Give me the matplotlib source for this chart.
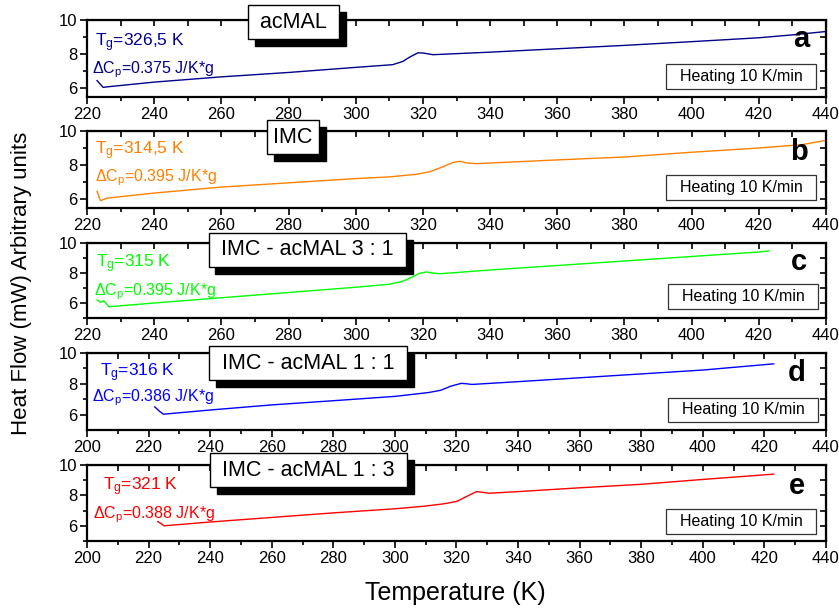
import matplotlib
matplotlib.use('Agg')
import matplotlib.pyplot as plt
from matplotlib.ticker import MultipleLocator

plt.rcParams['font.family'] = ['Liberation Sans', 'DejaVu Sans']
plt.rcParams['mathtext.default'] = 'regular'

# ---- data (temperature in K, heat flow in arb. units)
x_a = [223, 224.8, 226, 240, 260, 280, 300, 311, 314, 316, 318.5, 320, 323, 340, 360, 380, 400, 420, 430, 440]
y_a = [6.42, 6.02, 6.05, 6.33, 6.64, 6.9, 7.2, 7.36, 7.55, 7.8, 8.06, 8.05, 7.95, 8.1, 8.3, 8.5, 8.72, 8.95, 9.12, 9.32]

x_b = [223, 224, 226, 240, 260, 280, 300, 310, 318, 322, 326, 329, 331, 333, 336, 360, 380, 400, 420, 433, 440]
y_b = [6.45, 5.9, 6.05, 6.35, 6.7, 6.95, 7.2, 7.3, 7.45, 7.6, 7.9, 8.15, 8.22, 8.12, 8.08, 8.3, 8.47, 8.75, 9.0, 9.2, 9.45]

x_c = [223, 224, 225, 226.5, 240, 260, 280, 300, 310, 314, 317, 319, 321, 323, 325, 340, 360, 380, 400, 420, 423]
y_c = [6.2, 6.05, 6.15, 5.75, 6.0, 6.35, 6.7, 7.05, 7.25, 7.45, 7.75, 7.98, 8.07, 8.0, 7.95, 8.2, 8.5, 8.8, 9.1, 9.4, 9.47]

x_d = [222, 223.5, 224.8, 240, 260, 280, 300, 311, 315, 318, 321.5, 323, 325, 340, 360, 380, 400, 423]
y_d = [6.52, 6.25, 6.05, 6.32, 6.65, 6.92, 7.2, 7.45, 7.6, 7.85, 8.04, 8.02, 7.97, 8.15, 8.4, 8.65, 8.9, 9.3]

x_e = [223, 224, 225, 240, 260, 280, 300, 310, 316, 320, 323, 326.5, 328, 330.5, 340, 360, 380, 400, 423]
y_e = [6.28, 6.15, 6.0, 6.25, 6.55, 6.85, 7.12, 7.3, 7.45, 7.6, 7.9, 8.25, 8.22, 8.14, 8.25, 8.5, 8.73, 9.05, 9.4]

xs = [x_a, x_b, x_c, x_d, x_e]
ys = [y_a, y_b, y_c, y_d, y_e]
colors = ['#00008B', '#FF8000', '#00FF00', '#0000FF', '#FF0000']
letters = ['a', 'b', 'c', 'd', 'e']
samples = [' acMAL ', 'IMC', ' IMC - acMAL 3 : 1 ', ' IMC - acMAL 1 : 1 ', ' IMC - acMAL 1 : 3 ']
tg_labels = ['T$_g$=326,5 K', 'T$_g$=314,5 K', 'T$_g$=315 K', 'T$_g$=316 K', 'T$_g$=321 K']
cp_labels = ['ΔC$_p$=0.375 J/K*g', 'ΔC$_p$=0.395 J/K*g', 'ΔC$_p$=0.395 J/K*g',
             'ΔC$_p$=0.386 J/K*g', 'ΔC$_p$=0.388 J/K*g']
xlims = [(220, 440), (220, 440), (220, 440), (200, 440), (200, 440)]
ylims = [(5.45, 10), (5.47, 10), (5, 10), (5.03, 10), (5, 10)]

# layout in pixels (top, bottom) of every panel
W, H = 839, 608
panel_px = [(20, 97), (131, 208), (243, 318), (353, 430), (465, 541)]
tg_pos = [(0.011, 0.71), (0.011, 0.75), (0.012, 0.73), (0.017, 0.75), (0.022, 0.71)]
cp_pos = [(0.007, 0.35), (0.011, 0.39), (0.010, 0.35), (0.007, 0.42), (0.008, 0.34)]
box_pos = [(0.279, 0.97), (0.279, 0.92), (0.298, 0.91), (0.299, 0.87), (0.300, 0.93)]
heat_pos = [(0.885, 0.27), (0.885, 0.27), (0.888, 0.29), (0.888, 0.26), (0.885, 0.26)]
letter_pos = [(0.967, 0.75), (0.964, 0.73), (0.964, 0.75), (0.96, 0.74), (0.96, 0.72)]

fig = plt.figure(figsize=(W / 100, H / 100), dpi=100)

for i in range(5):
    top, bot = panel_px[i]
    ax = fig.add_axes([87 / W, 1 - bot / H, 739 / W, (bot - top) / H])
    ax.plot(xs[i], ys[i], color=colors[i], lw=1.0)
    ax.set_xlim(*xlims[i])
    ax.set_ylim(*ylims[i])
    ax.xaxis.set_major_locator(MultipleLocator(20))
    ax.xaxis.set_minor_locator(MultipleLocator(10))
    ax.yaxis.set_major_locator(MultipleLocator(2))
    ax.yaxis.set_minor_locator(MultipleLocator(1))
    for s in ax.spines.values():
        s.set_linewidth(1.6)
    ax.tick_params(which='major', direction='out', length=5, width=1.2, labelsize=12, pad=2)
    ax.tick_params(which='minor', direction='out', length=3, width=1.2)

    # inward ticks on top and right
    sx = ax.secondary_xaxis('top')
    sx.xaxis.set_major_locator(MultipleLocator(20))
    sx.xaxis.set_minor_locator(MultipleLocator(10))
    sx.tick_params(which='both', direction='in', length=4, width=1.2, labeltop=False)
    sy = ax.secondary_yaxis('right')
    sy.yaxis.set_major_locator(MultipleLocator(2))
    sy.yaxis.set_minor_locator(MultipleLocator(1))
    sy.tick_params(which='both', direction='in', length=4, width=1.2, labelright=False)

    ax.text(*tg_pos[i], tg_labels[i], transform=ax.transAxes, color=colors[i],
            fontsize=12.5, ha='left', va='center')
    ax.text(*cp_pos[i], cp_labels[i], transform=ax.transAxes, color=colors[i],
            fontsize=11.5, ha='left', va='center')

    # sample name box with black drop shadow
    box = dict(boxstyle='square,pad=0.3', lw=1.0)
    ax.annotate(samples[i], xy=box_pos[i], xycoords='axes fraction', xytext=(5, -5),
                textcoords='offset points', ha='center', va='center', fontsize=15.5,
                color='black', bbox=dict(box, fc='black', ec='black'), zorder=6)
    ax.text(*box_pos[i], samples[i], transform=ax.transAxes, ha='center', va='center',
            fontsize=15.5, bbox=dict(box, fc='white', ec='black'), zorder=7)

    ax.text(*heat_pos[i], '  Heating 10 K/min  ', transform=ax.transAxes, ha='center',
            va='center', fontsize=11.5,
            bbox=dict(boxstyle='square,pad=0.3', fc='white', ec='#333333', lw=0.9))
    ax.text(*letter_pos[i], letters[i], transform=ax.transAxes, ha='center', va='center',
            fontsize=21, fontweight='bold')

fig.text(455 / W, 1 - 593 / H, 'Temperature (K)', ha='center', va='center', fontsize=18)
fig.text(22 / W, 1 - 283 / H, 'Heat Flow (mW) Arbitrary units', ha='center', va='center',
         rotation=90, fontsize=16)

fig.savefig('out.png', dpi=100)
